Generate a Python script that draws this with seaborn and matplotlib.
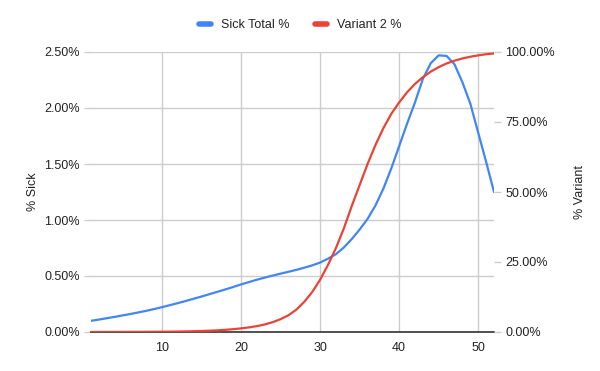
import matplotlib
matplotlib.use("Agg")
import matplotlib.pyplot as plt
import seaborn as sns
import pandas as pd
from matplotlib.ticker import FuncFormatter, FixedLocator
from matplotlib.lines import Line2D

weeks = list(range(1, 53))
sick_total = [0.100, 0.111, 0.123, 0.135, 0.148, 0.161, 0.175, 0.189, 0.205, 0.222,
              0.240, 0.258, 0.277, 0.297, 0.317, 0.338, 0.359, 0.380, 0.402, 0.425,
              0.446, 0.467, 0.486, 0.504, 0.521, 0.538, 0.555, 0.574, 0.595, 0.620,
              0.655, 0.695, 0.755, 0.830, 0.915, 1.010, 1.130, 1.280, 1.460, 1.660,
              1.860, 2.050, 2.260, 2.400, 2.470, 2.465, 2.390, 2.230, 2.040, 1.780,
              1.520, 1.250]
variant2 = [0.01, 0.01, 0.02, 0.02, 0.03, 0.04, 0.05, 0.06, 0.08, 0.10,
            0.13, 0.17, 0.22, 0.28, 0.36, 0.46, 0.60, 0.78, 1.00, 1.30,
            1.65, 2.10, 2.70, 3.50, 4.60, 6.00, 8.00, 10.8, 14.3, 18.7,
            24.0, 30.0, 37.0, 45.0, 52.5, 60.0, 66.8, 72.8, 77.9, 82.0,
            85.6, 88.6, 91.0, 93.0, 94.6, 95.9, 96.9, 97.7, 98.3, 98.8,
            99.2, 99.5]
series_names = ["Sick Total %", "Variant 2 %"]
left_ticks = [0.0, 0.5, 1.0, 1.5, 2.0, 2.5]
right_ticks = [0, 25, 50, 75, 100]
x_ticks = [10, 20, 30, 40, 50]

df = pd.DataFrame({"week": weeks, "sick": sick_total, "variant": variant2})

sns.set_theme(style="white")
plt.rcParams["font.family"] = ["Liberation Sans", "DejaVu Sans"]

BLUE = "#4285F4"
RED = "#EA4335"
GRID = "#cccccc"
TXT = "#222222"

fig = plt.figure(figsize=(6, 3.71), dpi=100)
ax = fig.add_axes([91/600, 1 - 332/371, (494-91)/600, (332-52)/371])
ax2 = ax.twinx()

sns.lineplot(data=df, x="week", y="sick", ax=ax, color=BLUE, linewidth=1.6)
sns.lineplot(data=df, x="week", y="variant", ax=ax2, color=RED, linewidth=1.6)

ax.set_xlim(1, 52)
ax.set_ylim(0, 2.5)
ax2.set_ylim(0, 100)
ax.xaxis.set_major_locator(FixedLocator(x_ticks))
ax.yaxis.set_major_locator(FixedLocator(left_ticks))
ax2.yaxis.set_major_locator(FixedLocator(right_ticks))
ax.yaxis.set_major_formatter(FuncFormatter(lambda v, p: f"{v:.2f}%"))
ax2.yaxis.set_major_formatter(FuncFormatter(lambda v, p: f"{v:.2f}%"))

ax.grid(True, axis="both", color=GRID, linewidth=1)
ax.set_axisbelow(True)
for a in (ax, ax2):
    for s in a.spines.values():
        s.set_visible(False)
ax.spines["bottom"].set_visible(True)
ax.spines["bottom"].set_color("#333333")
ax.spines["bottom"].set_linewidth(1.2)

fs = 9
ax.tick_params(axis="x", length=0, pad=7, labelsize=fs, labelcolor=TXT)
ax.tick_params(axis="y", length=5, width=1, color=GRID, pad=3, labelsize=fs, labelcolor=TXT)
ax2.tick_params(axis="y", length=5, width=1, color=GRID, pad=3, labelsize=fs, labelcolor=TXT)

ax.set_xlabel("")
ax.set_ylabel("% Sick", fontsize=fs, color=TXT, labelpad=4)
ax2.set_ylabel("% Variant", fontsize=fs, color=TXT, labelpad=14, rotation=90)

handles = [Line2D([0], [0], color=BLUE, linewidth=4, solid_capstyle="round"),
           Line2D([0], [0], color=RED, linewidth=4, solid_capstyle="round")]
fig.legend(handles, series_names, loc="center", bbox_to_anchor=(0.5, 1 - 25/371),
           ncol=2, frameon=False, fontsize=fs, handlelength=1.0, handletextpad=0.8,
           columnspacing=2.0, labelcolor=TXT)

fig.savefig("out.png", dpi=100)
